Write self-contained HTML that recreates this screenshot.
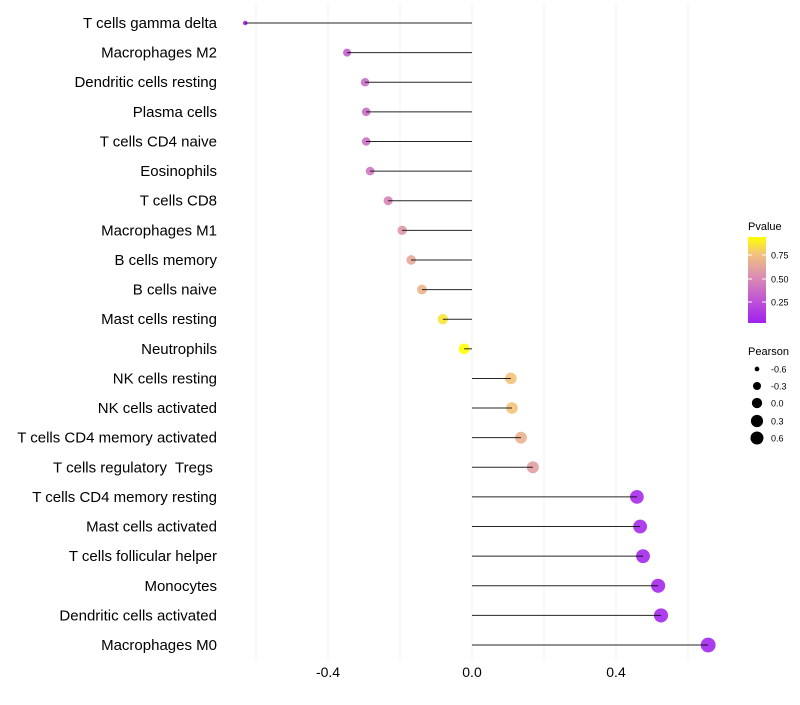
<!DOCTYPE html>
<html><head><meta charset="utf-8"><style>
body{margin:0;background:#fff;font-family:"Liberation Sans",sans-serif}
text{white-space:pre}
</style></head><body>
<svg id="c" width="800" height="700" xmlns="http://www.w3.org/2000/svg">
<defs><linearGradient id="pg" x1="0" y1="1" x2="0" y2="0">
<stop offset="0" stop-color="#A020F0"/><stop offset="0.3" stop-color="#C35BD0"/><stop offset="0.55" stop-color="#DC90B0"/><stop offset="0.8" stop-color="#F2C27E"/><stop offset="1" stop-color="#FFFF00"/></linearGradient></defs>
<g id="grid"></g><g id="marks"></g><g id="labels"></g><g id="legend"></g>
</svg>
<script>
const categories=["T cells gamma delta","Macrophages M2","Dendritic cells resting","Plasma cells","T cells CD4 naive","Eosinophils","T cells CD8","Macrophages M1","B cells memory","B cells naive","Mast cells resting","Neutrophils","NK cells resting","NK cells activated","T cells CD4 memory activated","T cells regulatory  Tregs ","T cells CD4 memory resting","Mast cells activated","T cells follicular helper","Monocytes","Dendritic cells activated","Macrophages M0"];
const pearson=[-0.63,-0.347,-0.297,-0.294,-0.294,-0.283,-0.233,-0.194,-0.169,-0.139,-0.081,-0.022,0.108,0.111,0.136,0.169,0.458,0.467,0.475,0.517,0.525,0.656];
const pvalue=[0.01,0.3,0.36,0.36,0.37,0.4,0.46,0.55,0.63,0.68,0.85,0.93,0.75,0.75,0.67,0.58,0.06,0.06,0.05,0.05,0.05,0.04];
const xTicks=[-0.4,0.0,0.4];
const xTickLabels=["-0.4","0.0","0.4"];
const NS="http://www.w3.org/2000/svg";
const x=v=>472+v*360;
const y=i=>23+i*29.62;
const pmin=0.01,pmax=0.93;
const stops=[[0,[160,32,240]],[0.3,[195,91,208]],[0.55,[220,144,176]],[0.8,[242,194,126]],[1,[255,255,0]]];
function col(p){let t=Math.max(0,Math.min(1,(p-pmin)/(pmax-pmin)));for(let k=1;k<stops.length;k++){if(t<=stops[k][0]){const a=stops[k-1],b=stops[k],f=(t-a[0])/(b[0]-a[0]);return "rgb("+a[1].map((c,j)=>Math.round(c+(b[1][j]-c)*f)).join(",")+")";}}return "rgb(255,255,0)";}
const rad=v=>Math.sqrt(Math.max(5,5+(v+0.63)*39));
function mk(t,a,p){const e=document.createElementNS(NS,t);for(const k in a)e.setAttribute(k,a[k]);p.appendChild(e);return e;}
const grid=document.getElementById('grid'),marks=document.getElementById('marks'),labels=document.getElementById('labels'),legend=document.getElementById('legend');
for(let g=-0.6;g<=0.61;g+=0.2){const l=mk('line',{x1:x(g),x2:x(g),y1:5,y2:660,stroke:'#f2f2f2','stroke-width':1},grid);

}
categories.forEach((c,i)=>{
const d=mk('circle',{cx:x(pearson[i]),cy:y(i),r:rad(pearson[i]),fill:col(pvalue[i]),'fill-opacity':0.9},marks);


const s=mk('line',{x1:x(0),x2:x(pearson[i]),y1:y(i),y2:y(i),stroke:'#000','stroke-width':1,'stroke-opacity':0.85},marks);


const t=mk('text',{x:217,y:y(i)+5,'text-anchor':'end','font-size':15,fill:'#000'},labels);t.textContent=c;


});
xTicks.forEach((v,i)=>{const t=mk('text',{x:x(v),y:677,'text-anchor':'middle','font-size':14,fill:'#000'},labels);t.textContent=xTickLabels[i];

});
const lt=mk('text',{x:748,y:230,'font-size':11},legend);lt.textContent='Pvalue';


const cb=mk('rect',{x:748,y:237,width:18,height:86,fill:'url(#pg)'},legend);


[[0.75,255],[0.5,279],[0.25,302]].forEach(a=>{mk('line',{x1:748,x2:752,y1:a[1],y2:a[1],stroke:'#fff'},legend);mk('line',{x1:762,x2:766,y1:a[1],y2:a[1],stroke:'#fff'},legend);
const t=mk('text',{x:771,y:a[1]+3.5,'font-size':9},legend);t.textContent=a[0].toFixed(2);

});
const pt=mk('text',{x:748,y:355,'font-size':11},legend);pt.textContent='Pearson';


[[-0.6,'-0.6',369],[-0.3,'-0.3',386],[0,'0.0',403],[0.3,'0.3',421],[0.6,'0.6',438]].forEach(a=>{
const c=mk('circle',{cx:757,cy:a[2],r:Math.min(6.5,rad(a[0])*0.95),fill:'#000'},legend);


const t=mk('text',{x:771,y:a[2]+3.5,'font-size':9},legend);t.textContent=a[1];

});
</script>
</body></html>
